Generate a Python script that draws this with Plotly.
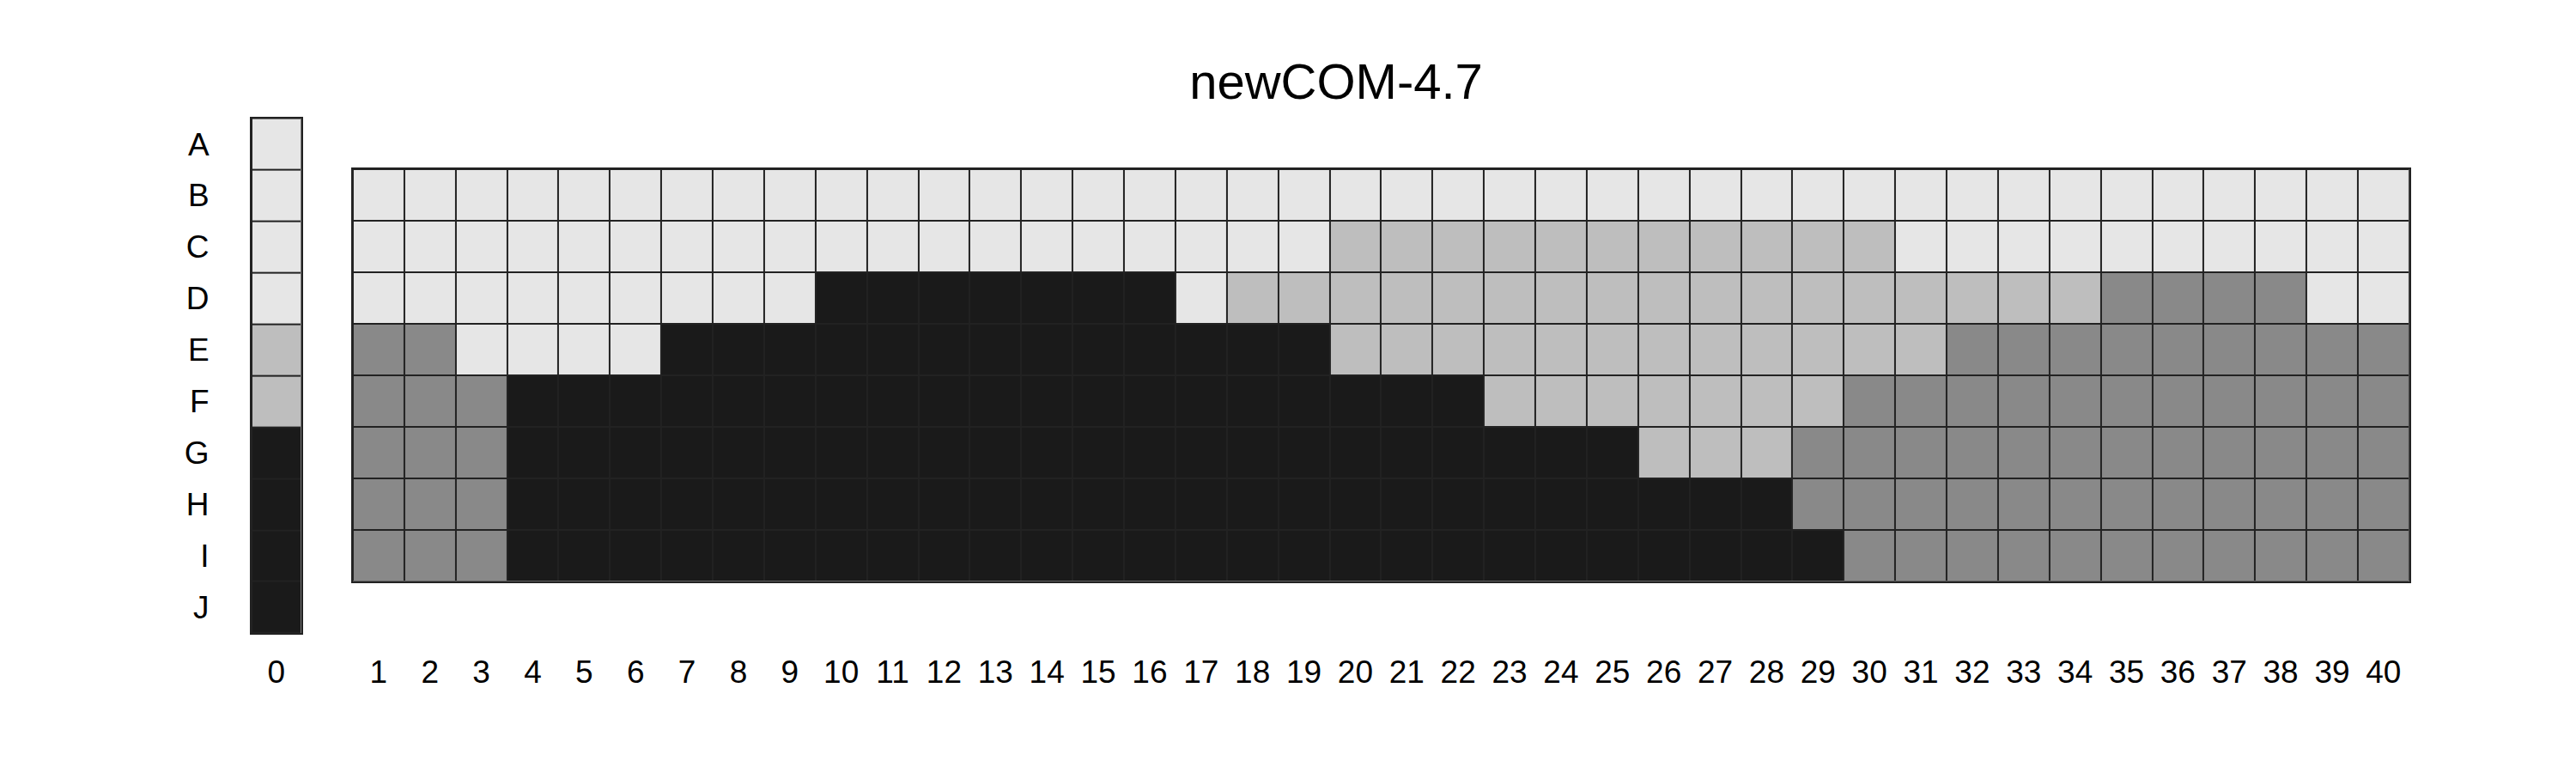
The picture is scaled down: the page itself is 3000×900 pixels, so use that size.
import plotly.graph_objects as go

# grey levels: 0 light, 1 mid-light, 2 mid-dark, 3 dark
level_colors = ["#e6e6e6", "#bebebe", "#898989", "#1a1a1a"]

rows_col0 = ["A", "B", "C", "D", "E", "F", "G", "H", "I", "J"]
col0 = [0, 0, 0, 0, 1, 1, 3, 3, 3, 3]

rows_main = ["B", "C", "D", "E", "F", "G", "H", "I"]
columns = list(range(1, 41))
# each entry: levels for rows B..I
col_levels = [
    [0, 0, 0, 2, 2, 2, 2, 2],  # 1
    [0, 0, 0, 2, 2, 2, 2, 2],  # 2
    [0, 0, 0, 0, 2, 2, 2, 2],  # 3
    [0, 0, 0, 0, 3, 3, 3, 3],  # 4
    [0, 0, 0, 0, 3, 3, 3, 3],  # 5
    [0, 0, 0, 0, 3, 3, 3, 3],  # 6
    [0, 0, 0, 3, 3, 3, 3, 3],  # 7
    [0, 0, 0, 3, 3, 3, 3, 3],  # 8
    [0, 0, 0, 3, 3, 3, 3, 3],  # 9
    [0, 0, 3, 3, 3, 3, 3, 3],  # 10
    [0, 0, 3, 3, 3, 3, 3, 3],  # 11
    [0, 0, 3, 3, 3, 3, 3, 3],  # 12
    [0, 0, 3, 3, 3, 3, 3, 3],  # 13
    [0, 0, 3, 3, 3, 3, 3, 3],  # 14
    [0, 0, 3, 3, 3, 3, 3, 3],  # 15
    [0, 0, 3, 3, 3, 3, 3, 3],  # 16
    [0, 0, 0, 3, 3, 3, 3, 3],  # 17
    [0, 0, 1, 3, 3, 3, 3, 3],  # 18
    [0, 0, 1, 3, 3, 3, 3, 3],  # 19
    [0, 1, 1, 1, 3, 3, 3, 3],  # 20
    [0, 1, 1, 1, 3, 3, 3, 3],  # 21
    [0, 1, 1, 1, 3, 3, 3, 3],  # 22
    [0, 1, 1, 1, 1, 3, 3, 3],  # 23
    [0, 1, 1, 1, 1, 3, 3, 3],  # 24
    [0, 1, 1, 1, 1, 3, 3, 3],  # 25
    [0, 1, 1, 1, 1, 1, 3, 3],  # 26
    [0, 1, 1, 1, 1, 1, 3, 3],  # 27
    [0, 1, 1, 1, 1, 1, 3, 3],  # 28
    [0, 1, 1, 1, 1, 2, 2, 3],  # 29
    [0, 1, 1, 1, 2, 2, 2, 2],  # 30
    [0, 0, 1, 1, 2, 2, 2, 2],  # 31
    [0, 0, 1, 2, 2, 2, 2, 2],  # 32
    [0, 0, 1, 2, 2, 2, 2, 2],  # 33
    [0, 0, 1, 2, 2, 2, 2, 2],  # 34
    [0, 0, 2, 2, 2, 2, 2, 2],  # 35
    [0, 0, 2, 2, 2, 2, 2, 2],  # 36
    [0, 0, 2, 2, 2, 2, 2, 2],  # 37
    [0, 0, 2, 2, 2, 2, 2, 2],  # 38
    [0, 0, 0, 2, 2, 2, 2, 2],  # 39
    [0, 0, 0, 2, 2, 2, 2, 2],  # 40
]

scale = []
for i, c in enumerate(level_colors):
    scale.append([i / 4, c])
    scale.append([(i + 1) / 4, c])

z_main = [[col_levels[c][r] for c in range(len(columns))] for r in range(len(rows_main))]
z_col0 = [[v] for v in col0]

fig = go.Figure()
fig.add_trace(go.Heatmap(z=z_col0, x=["0"], y=rows_col0, zmin=-0.5, zmax=3.5,
                         colorscale=scale, showscale=False, xgap=2, ygap=2,
                         xaxis="x", yaxis="y"))
fig.add_trace(go.Heatmap(z=z_main, x=[str(c) for c in columns], y=rows_main,
                         zmin=-0.5, zmax=3.5, colorscale=scale, showscale=False,
                         xgap=2, ygap=2, xaxis="x2", yaxis="y2"))

axis_common = dict(showline=True, linecolor="#222", linewidth=2, mirror=True,
                   showgrid=False, zeroline=False, ticks="",
                   tickfont=dict(size=37, color="black"))
fig.update_layout(
    width=3000, height=900,
    margin=dict(l=0, r=0, t=0, b=0),
    paper_bgcolor="white", plot_bgcolor="#222",
    font=dict(family="Liberation Sans, Arial, sans-serif", color="black"),
    title=dict(text="newCOM-4.7", x=0.516, xanchor="center", y=0.904,
               yanchor="middle", font=dict(size=58)),
    xaxis=dict(domain=[0.095, 0.1142], anchor="y", type="category",
               ticklabelstandoff=12, **axis_common),
    yaxis=dict(domain=[0.19, 0.856], anchor="x", autorange="reversed",
               type="category", ticklabelstandoff=40, **axis_common),
    xaxis2=dict(domain=[0.1343, 0.9326], anchor="y2", type="category",
                ticklabelstandoff=72, **axis_common),
    yaxis2=dict(domain=[0.257, 0.790], anchor="x2", autorange="reversed",
                type="category", showticklabels=False, **axis_common),
)

fig.write_html("out.html")
